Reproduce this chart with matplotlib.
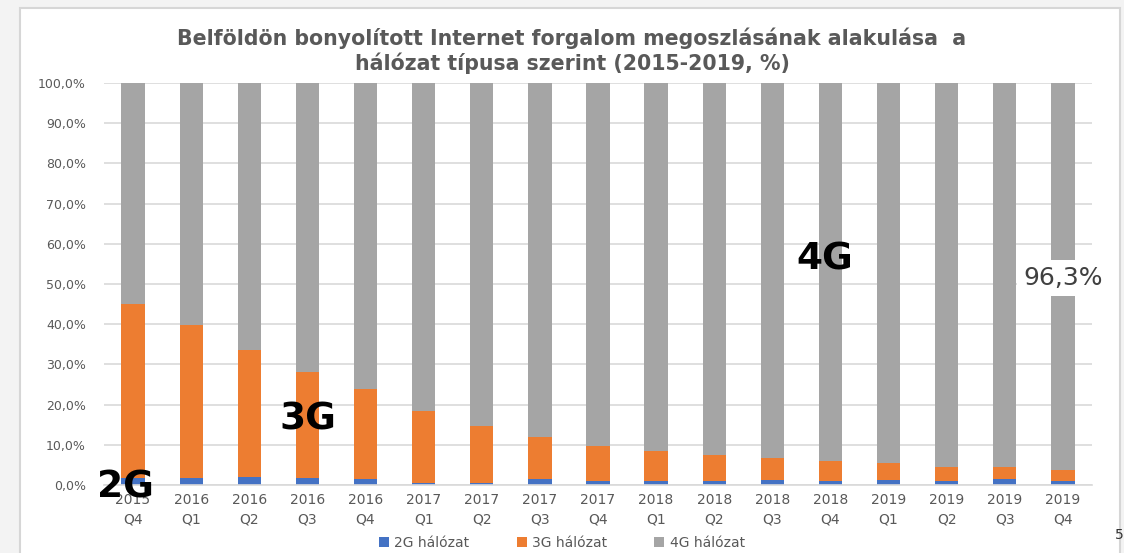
import matplotlib
matplotlib.use("Agg")
import matplotlib.pyplot as plt
from matplotlib.patches import Rectangle
import numpy as np

categories = ["2015\nQ4", "2016\nQ1", "2016\nQ2", "2016\nQ3", "2016\nQ4",
              "2017\nQ1", "2017\nQ2", "2017\nQ3", "2017\nQ4",
              "2018\nQ1", "2018\nQ2", "2018\nQ3", "2018\nQ4",
              "2019\nQ1", "2019\nQ2", "2019\nQ3", "2019\nQ4"]
g2 = [1.7, 1.7, 1.9, 1.7, 1.6, 0.6, 0.6, 1.5, 1.1, 1.1, 0.9, 1.2, 1.1, 1.2, 0.9, 1.5, 1.1]
g3 = [43.4, 38.0, 31.6, 26.3, 22.2, 17.8, 14.0, 10.4, 8.7, 7.3, 6.5, 5.4, 4.9, 4.2, 3.5, 3.1, 2.6]
g4 = [54.9, 60.3, 66.5, 72.0, 76.2, 81.6, 85.4, 88.1, 90.2, 91.6, 92.6, 93.4, 94.0, 94.6, 95.6, 95.4, 96.3]
series_names = ["2G hálózat", "3G hálózat", "4G hálózat"]
colors = ["#4472C4", "#ED7D31", "#A5A5A5"]
yticks = np.arange(0, 101, 10)
ytick_labels = [f"{v:.1f}%".replace(".", ",") for v in yticks]
title = "Belföldön bonyolított Internet forgalom megoszlásának alakulása  a\nhálózat típusa szerint (2015-2019, %)"

W, H = 1124, 553
fig = plt.figure(figsize=(W / 100, H / 100), dpi=100)
fig.patch.set_facecolor("#F3F3F3")
# white card
fig.patches.append(Rectangle((20 / W, -0.01), (1120 - 20) / W, (H - 8) / H + 0.01,
                             transform=fig.transFigure, facecolor="white",
                             edgecolor="#D6D6D6", linewidth=1.5, zorder=-5))

ax = fig.add_axes([104 / W, 1 - 485 / H, (1092 - 104) / W, (485 - 83) / H])
ax.set_zorder(2)
ax.set_facecolor("none")
x = np.arange(len(categories))
bw = 0.4
b2 = np.array(g2)
b3 = np.array(g3)
b4 = np.array(g4)
ax.bar(x, b2, bw, color=colors[0], label=series_names[0], zorder=2)
ax.bar(x, b3, bw, bottom=b2, color=colors[1], label=series_names[1], zorder=2)
ax.bar(x, b4, bw, bottom=b2 + b3, color=colors[2], label=series_names[2], zorder=2)

ax.set_xlim(-0.5, len(categories) - 0.5)
ax.set_ylim(0, 100)
ax.set_yticks(yticks)
ax.set_yticklabels(ytick_labels)
ax.set_xticks(x)
ax.set_xticklabels(categories, linespacing=1.45)
ax.yaxis.grid(True, color="#D9D9D9", linewidth=1.2, zorder=0)
ax.set_axisbelow(True)
for s in ["top", "right", "left"]:
    ax.spines[s].set_visible(False)
ax.spines["bottom"].set_color("#D9D9D9")
ax.spines["bottom"].set_linewidth(1.2)
ax.tick_params(axis="both", length=0, colors="#595959")
ax.tick_params(axis="y", pad=13, labelsize=9)
ax.tick_params(axis="x", pad=6, labelsize=10)

fig.text(572 / W, 1 - 51 / H, title, ha="center", va="center",
         fontsize=14.8, fontweight="bold", color="#595959", linespacing=1.2)

leg = ax.legend(loc="center", bbox_to_anchor=(562 / W, 1 - 543 / H),
                bbox_transform=fig.transFigure, ncol=3, frameon=False,
                fontsize=10, handlelength=0.7, handleheight=0.7,
                columnspacing=3.4, handletextpad=0.4)
for t in leg.get_texts():
    t.set_color("#595959")

# big annotations
ax.text(125 / W, 1 - 487 / H, "2G", ha="center", va="center", transform=fig.transFigure,
        fontsize=27, fontweight="bold", color="black", zorder=6, clip_on=False)
ax.text(308 / W, 1 - 420 / H, "3G", ha="center", va="center", transform=fig.transFigure,
        fontsize=27, fontweight="bold", color="black", zorder=6, clip_on=False)
ax.text(825 / W, 1 - 259 / H, "4G", ha="center", va="center", transform=fig.transFigure,
        fontsize=27, fontweight="bold", color="black", zorder=6, clip_on=False)
ax.text(x[-1], 51.5, f"{g4[-1]:.1f}%".replace(".", ","),
        ha="center", va="center", fontsize=18, color="#404040", zorder=5, clip_on=False,
        bbox=dict(boxstyle="square,pad=0.25", facecolor="white", edgecolor="none"))

fig.text(1115 / W, 1 - 535 / H, "5", ha="left", va="center", fontsize=10, color="#333333")

fig.savefig("out.png", dpi=100)
